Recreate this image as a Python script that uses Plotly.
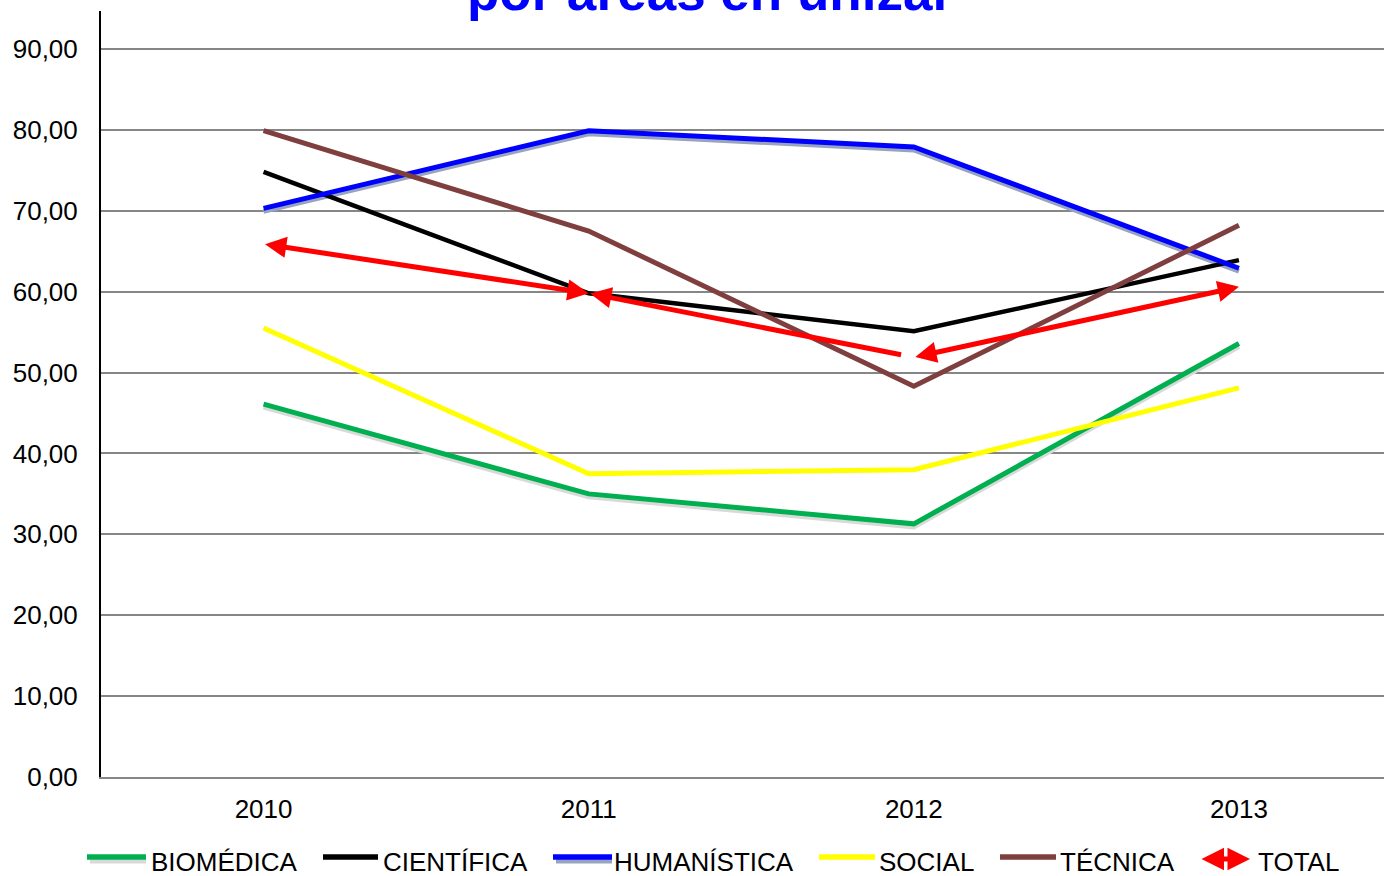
import plotly.graph_objects as go

# ---------------- data ----------------
years = ["2010", "2011", "2012", "2013"]
series_names = ["BIOMÉDICA", "CIENTÍFICA", "HUMANÍSTICA", "SOCIAL", "TÉCNICA"]
biomedica = [46.1, 35.0, 31.3, 53.6]
cientifica = [74.8, 59.8, 55.1, 63.9]
humanistica = [70.3, 79.9, 77.9, 62.9]
social = [55.5, 37.5, 38.0, 48.1]
tecnica = [79.9, 67.5, 48.3, 68.2]
total = [65.9, 59.8, 51.9, 60.6]
title_text = "por áreas en unizar"
y_ticks = [0, 10, 20, 30, 40, 50, 60, 70, 80, 90]

# ---------------- style ----------------
W, H = 1384, 876
L, R, T, B = 101, 1384, 11, 777
Y_MAX = 94.7
FONT = "Liberation Sans, Arial, sans-serif"
colors = ["#00B050", "#000000", "#0000FF", "#FFFF00", "#7F3F3F"]
widths = [5, 4.5, 5, 5, 5]
shadow_colors = {0: "#D9D9D9", 2: "#98A4BF"}
SHADOW_DY = 3  # px
RED = "#FF0000"

values = [biomedica, cientifica, humanistica, social, tecnica]

def px_x(px):
    return (px - L) / (R - L)

def px_y(py):
    return (B - py) / (B - T)

y_scale = (B - T) / Y_MAX  # px per unit

fig = go.Figure()

# shadows (drawn under main lines via overlay order)
for i, c in shadow_colors.items():
    fig.add_trace(go.Scatter(x=years, y=values[i], mode="lines", yaxis="y2",
                             line=dict(color=c, width=5), showlegend=False,
                             hoverinfo="skip"))

for i, name in enumerate(series_names):
    fig.add_trace(go.Scatter(x=years, y=values[i], mode="lines", name=name,
                             yaxis="y3", line=dict(color=colors[i], width=widths[i]),
                             showlegend=False))

annotations = []
# TOTAL segments drawn as arrows
arrow_sides = ["end+start", "start", "end+start"]
standoffs = [0, 13, 0]
for k in range(len(total) - 1):
    annotations.append(dict(
        x=k + 1, y=total[k + 1], ax=k, ay=total[k],
        xref="x", yref="y", axref="x", ayref="y",
        showarrow=True, text="", arrowcolor=RED, arrowwidth=5,
        arrowhead=2, startarrowhead=2, arrowsize=0.85, startarrowsize=0.85,
        arrowside=arrow_sides[k], standoff=standoffs[k]))

# title (partly cut off by top edge)
annotations.append(dict(x=px_x(710), y=px_y(-9), xref="paper", yref="paper",
                        text="<b>%s</b>" % title_text, showarrow=False,
                        xanchor="center", yanchor="middle",
                        font=dict(family=FONT, size=53, color="#0000FF")))

# custom legend
legend_items = [  # line start, line end, text start (px)
    (87, 146, 149),
    (323, 378, 381),
    (553, 612, 612),
    (819, 875, 877),
    (1000, 1056, 1058),
]
LEG_Y = 857
TEXT_Y = 862
shapes = []
for i, (x0, x1, tx) in enumerate(legend_items):
    if i in shadow_colors:
        shapes.append(dict(type="line", xref="paper", yref="paper",
                           x0=px_x(x0 + 3), x1=px_x(x1), y0=px_y(LEG_Y + 4), y1=px_y(LEG_Y + 4),
                           line=dict(color=shadow_colors[i], width=5)))
    shapes.append(dict(type="line", xref="paper", yref="paper",
                       x0=px_x(x0), x1=px_x(x1), y0=px_y(LEG_Y), y1=px_y(LEG_Y),
                       line=dict(color=colors[i], width=5.5)))
    annotations.append(dict(x=px_x(tx), y=px_y(TEXT_Y), xref="paper", yref="paper",
                            text=series_names[i], showarrow=False, xanchor="left",
                            yanchor="middle", font=dict(family=FONT, size=26, color="#000000")))

# TOTAL legend: double arrow
annotations.append(dict(x=px_x(1250), y=px_y(LEG_Y + 2), xref="paper", yref="paper",
                        ax=-50, ay=0, showarrow=True, text="", arrowcolor=RED,
                        arrowwidth=5, arrowhead=2, startarrowhead=2,
                        arrowsize=0.9, startarrowsize=0.9, arrowside="end+start"))
annotations.append(dict(x=px_x(1256), y=px_y(TEXT_Y), xref="paper", yref="paper",
                        text="TOTAL", showarrow=False, xanchor="left", yanchor="middle",
                        font=dict(family=FONT, size=26, color="#000000")))

fig.update_layout(
    width=W, height=H,
    margin=dict(l=L, r=W - R, t=T, b=H - B, pad=0),
    paper_bgcolor="white", plot_bgcolor="white",
    separators=",.",
    showlegend=False,
    font=dict(family=FONT, size=26, color="#000000"),
    xaxis=dict(type="category", categoryorder="array", categoryarray=years,
               range=[-0.5, (R - 264) / 325.0], showgrid=False, zeroline=False,
               showline=True, linecolor="#868686", linewidth=2, ticks="",
               ticklabelstandoff=8, tickfont=dict(family=FONT, size=26)),
    yaxis=dict(range=[0, Y_MAX], tickvals=y_ticks, tickformat=".2f",
               showgrid=True, gridcolor="#868686", gridwidth=2, zeroline=False,
               showline=True, linecolor="#000000", linewidth=2, ticks="",
               ticklabelstandoff=16, tickfont=dict(family=FONT, size=26)),
    yaxis2=dict(overlaying="y", range=[SHADOW_DY / y_scale, Y_MAX + SHADOW_DY / y_scale],
                visible=False),
    yaxis3=dict(overlaying="y", range=[0, Y_MAX], visible=False),
    annotations=annotations,
    shapes=shapes,
)

fig.write_html("out.html", config={"displayModeBar": False},
               post_script="document.body.style.margin='0';document.body.style.overflow='hidden';")
